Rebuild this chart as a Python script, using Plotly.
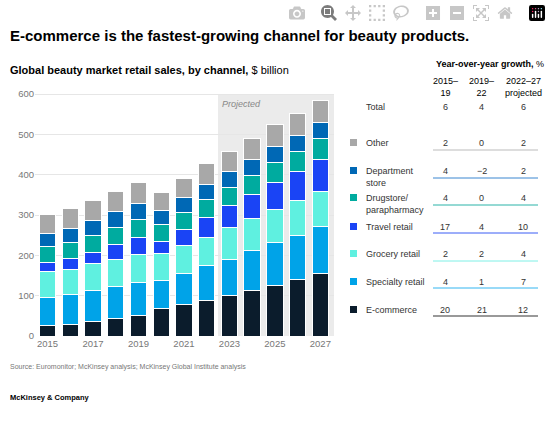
import plotly.graph_objects as go

years = list(range(2015, 2028))
channels = ["E-commerce", "Specialty retail", "Grocery retail", "Travel retail",
            "Drugstore/<br>parapharmacy", "Department<br>store", "Other"]
colors = ["#0b1c2c", "#00a3e8", "#5ff0e0", "#1a44f5", "#00ab9f", "#0068b5", "#a8a8a8"]
ecommerce = [25, 29, 36, 43, 51, 68, 78, 89, 100, 113, 126, 140, 154]
specialty = [70, 73, 76, 79, 81, 69, 77, 85, 90, 98, 105, 110, 117]
grocery = [64, 64, 67, 67, 69, 67, 70, 71, 78, 80, 82, 85, 87]
travel = [24, 25, 29, 37, 44, 30, 38, 50, 55, 60, 67, 72, 79]
drugstore = [39, 41, 41, 42, 44, 42, 42, 44, 46, 46, 50, 50, 52]
department = [33, 35, 37, 40, 40, 34, 38, 37, 38, 41, 40, 41, 41]
other = [47, 49, 49, 50, 51, 46, 47, 51, 51, 51, 54, 53, 53]
series = [ecommerce, specialty, grocery, travel, drugstore, department, other]

growth_cols = ["2015–<br>19", "2019–<br>22", "2022–27<br>projected"]
growth_total = ["6", "4", "6"]
growth = [["20", "21", "12"], ["4", "1", "7"], ["2", "2", "4"], ["17", "4", "10"],
          ["4", "0", "4"], ["4", "−2", "2"], ["2", "0", "2"]]

W, H = 551, 426
L, R, T, B = 35, 334, 92, 336
def px(x): return (x - L) / (R - L)
def py(y): return (B - y) / (B - T)

fig = go.Figure()
for name, vals, c in zip(channels, series, colors):
    fig.add_trace(go.Bar(x=years, y=vals, name=name, marker_color=c,
                         marker_line_color="white", marker_line_width=1))

fig.add_shape(type="rect", xref="x", yref="y", x0=2022.5, x1=2027.6, y0=0, y1=600,
              fillcolor="#ebebeb", line_width=0, layer="below")

ann = []
def A(x, y, text, size=9, color="#333", xanchor="left", bold=False, yanchor="middle", align="left"):
    if bold:
        text = "<b>" + text + "</b>"
    ann.append(dict(x=px(x), y=py(y), xref="paper", yref="paper", text=text, showarrow=False,
                    font=dict(size=size, color=color, family="Liberation Sans, Arial"),
                    xanchor=xanchor, yanchor=yanchor, align=align))

A(8, 35, "E-commerce is the fastest-growing channel for beauty products.", size=15, color="#000", bold=True)
A(8, 70, "<b>Global beauty market retail sales, by channel,</b> $ billion", size=11, color="#000")
ann.append(dict(x=2022.6, y=592, xref="x", yref="y", text="<i>Projected</i>", showarrow=False,
                font=dict(size=9, color="#888", family="Liberation Sans, Arial"), xanchor="left", yanchor="top"))
A(8, 367, "Source: Euromonitor; McKinsey analysis; McKinsey Global Institute analysis", size=7, color="#777")
A(8, 397, "McKinsey & Company", size=7.5, color="#000", bold=True)
A(546, 64, "<b>Year-over-year growth,</b> %", size=9, color="#000", xanchor="right")
colx = [445, 482, 523]
for cx, t in zip(colx, growth_cols):
    A(cx, 87, t, size=9, color="#000", xanchor="center", align="center")

shapes = []
def line(y, color, dash="solid", w=1):
    shapes.append(dict(type="line", xref="paper", yref="paper", x0=px(433), x1=px(538),
                       y0=py(y), y1=py(y), line=dict(color=color, width=w, dash=dash)))

A(364, 107, "Total", size=9)
for cx, t in zip(colx, growth_total):
    A(cx, 107, t, size=9, xanchor="center")
line(112, "#999", "dot")

row_y = [310, 282, 254, 227, 204, 177, 143]
line_y = [316, 288, 261, 233, 205, 178, 150]
line_c = ["#777", "#33b5f0", "#7ff0e6", "#3a5cf5", "#2ab3a8", "#3a86d0", "#bbb"]
for i in range(7):
    y = row_y[i]
    yy = y if i not in (4, 5) else y - 6
    shapes.append(dict(type="rect", xref="paper", yref="paper",
                       x0=px(350), x1=px(357), y0=py(yy - 4), y1=py(yy + 3),
                       fillcolor=colors[i], line_width=0))
    A(364, y, channels[i], size=9, align="left")
    for cx, t in zip(colx, growth[i]):
        A(cx, yy, t, size=9, xanchor="center")
    line(line_y[i], line_c[i], w=1.5 if i == 0 else 1)

fig.update_layout(
    width=W, height=H, barmode="stack", bargap=0.28, showlegend=False,
    plot_bgcolor="white", paper_bgcolor="white",
    margin=dict(l=L, r=W - R, t=T, b=H - B),
    annotations=ann, shapes=shapes,
    font=dict(family="Liberation Sans, Arial", color="#777"),
    xaxis=dict(tickvals=list(range(2015, 2028, 2)), tickfont=dict(size=9.5, color="#777"),
               range=[2014.45, 2027.6], showgrid=False, ticks="", zeroline=False),
    yaxis=dict(range=[0, 605], tickvals=list(range(0, 601, 100)), tickfont=dict(size=9.5, color="#777"),
               gridcolor="#e6e6e6", zeroline=False, ticks=""),
)
fig.write_html("out.html")
with open("out.html", encoding="utf-8") as f:
    html = f.read()
html = html.replace("<head>", "<head><style>html,body{margin:0;padding:0;overflow:hidden}</style>", 1)
with open("out.html", "w", encoding="utf-8") as f:
    f.write(html)
